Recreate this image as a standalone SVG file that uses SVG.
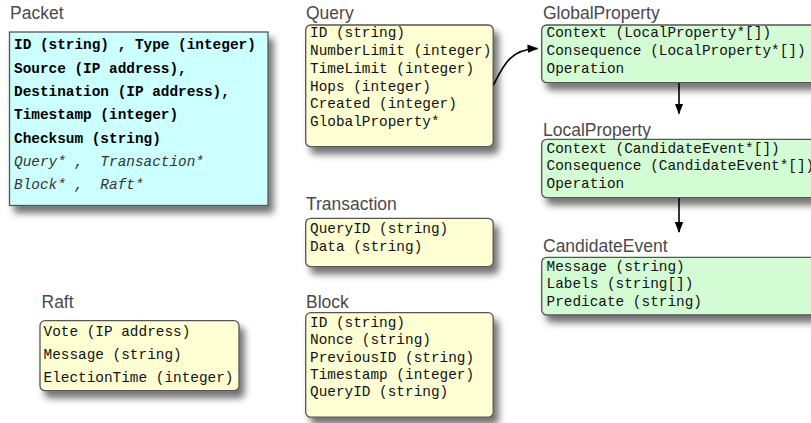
<svg xmlns="http://www.w3.org/2000/svg" width="811" height="423" viewBox="0 0 811 423">
<defs>
<filter id="sh" x="-10%" y="-10%" width="130%" height="150%">
<feDropShadow dx="5" dy="7" stdDeviation="3.5" flood-color="#000" flood-opacity="0.55"/>
</filter>
<marker id="ah" markerWidth="11" markerHeight="10" refX="10" refY="5" orient="auto" markerUnits="userSpaceOnUse">
<path d="M0,0.8 L11,5 L0,9.2 Z" fill="#000"/>
</marker>
</defs>
<style>
.title{font-family:"Liberation Sans",Arial,sans-serif;font-size:17.5px;fill:#4a4a4a}
.m{font-family:"Liberation Mono","Courier New",monospace;font-size:14.4px;fill:#111;white-space:pre}
.b{font-weight:bold;fill:#000}
.i{font-style:italic;fill:#333}
.cyan{fill:#ccffff;stroke:#555;stroke-width:1.3}
.yel{fill:#ffffd4;stroke:#555;stroke-width:1.3}
.grn{fill:#d4fcd4;stroke:#555;stroke-width:1.3}
.conn{fill:none;stroke:#000;stroke-width:1.6}
</style>

<g id="Packet">
<text class="title" x="10" y="18.5">Packet</text>
<rect class="cyan" x="9.5" y="32" width="258.5" height="173.5" filter="url(#sh)"/>
<text class="m b" x="14" y="49.3" xml:space="preserve">ID (string) , Type (integer)</text>
<text class="m b" x="14" y="72.6">Source (IP address),</text>
<text class="m b" x="14" y="95.9">Destination (IP address),</text>
<text class="m b" x="14" y="119.2">Timestamp (integer)</text>
<text class="m b" x="14" y="142.5">Checksum (string)</text>
<text class="m i" x="14" y="165.8" xml:space="preserve">Query* ,  Transaction*</text>
<text class="m i" x="14" y="189.1" xml:space="preserve">Block* ,  Raft*</text>
</g>

<g id="Raft">
<text class="title" x="41.5" y="308.3">Raft</text>
<rect class="yel" x="40" y="320.7" width="199" height="70" rx="5" filter="url(#sh)"/>
<text class="m" x="43.5" y="336">Vote (IP address)</text>
<text class="m" x="43.5" y="359.3">Message (string)</text>
<text class="m" x="43.5" y="382.3">ElectionTime (integer)</text>
</g>

<g id="Query">
<text class="title" x="306" y="19">Query</text>
<rect class="yel" x="305.7" y="25" width="187.5" height="121.7" rx="5" filter="url(#sh)"/>
<text class="m" x="310" y="37">ID (string)</text>
<text class="m" x="310" y="55">NumberLimit (integer)</text>
<text class="m" x="310" y="72.8">TimeLimit (integer)</text>
<text class="m" x="310" y="90.6">Hops (integer)</text>
<text class="m" x="310" y="108.3">Created (integer)</text>
<text class="m" x="310" y="126">GlobalProperty*</text>
</g>

<g id="Transaction">
<text class="title" x="306" y="210">Transaction</text>
<rect class="yel" x="305.7" y="218.3" width="187.5" height="48.4" rx="5" filter="url(#sh)"/>
<text class="m" x="310" y="233.3">QueryID (string)</text>
<text class="m" x="310" y="250.5">Data (string)</text>
</g>

<g id="Block">
<text class="title" x="306" y="308.3">Block</text>
<rect class="yel" x="305.7" y="312.7" width="187.5" height="104.5" rx="5" filter="url(#sh)"/>
<text class="m" x="310" y="326.7">ID (string)</text>
<text class="m" x="310" y="344">Nonce (string)</text>
<text class="m" x="310" y="361.7">PreviousID (string)</text>
<text class="m" x="310" y="379">Timestamp (integer)</text>
<text class="m" x="310" y="396.3">QueryID (string)</text>
</g>

<g id="GlobalProperty">
<text class="title" x="543" y="19">GlobalProperty</text>
<rect class="grn" x="541.7" y="25" width="280" height="57.7" rx="5" filter="url(#sh)"/>
<text class="m" x="546.5" y="37.3">Context (LocalProperty*[])</text>
<text class="m" x="546.5" y="55">Consequence (LocalProperty*[])</text>
<text class="m" x="546.5" y="72.7">Operation</text>
</g>

<g id="LocalProperty">
<text class="title" x="543" y="135.5">LocalProperty</text>
<rect class="grn" x="541.7" y="139.3" width="280" height="58.4" rx="5" filter="url(#sh)"/>
<text class="m" x="546.5" y="152.5">Context (CandidateEvent*[])</text>
<text class="m" x="546.5" y="170.2">Consequence (CandidateEvent*[])</text>
<text class="m" x="546.5" y="187.9">Operation</text>
</g>

<g id="CandidateEvent">
<text class="title" x="543" y="251.7">CandidateEvent</text>
<rect class="grn" x="541.7" y="257.3" width="280" height="57.7" rx="5" filter="url(#sh)"/>
<text class="m" x="546.5" y="270.7">Message (string)</text>
<text class="m" x="546.5" y="288.3">Labels (string[])</text>
<text class="m" x="546.5" y="305.9">Predicate (string)</text>
</g>

<g id="connectors">
<path class="conn" d="M493.5,85 C503,66 510,49 537.5,48.5" marker-end="url(#ah)"/>
<path class="conn" d="M679,83 L679,113.5" marker-end="url(#ah)"/>
<path class="conn" d="M679,198 L679,232" marker-end="url(#ah)"/>
</g>
</svg>
